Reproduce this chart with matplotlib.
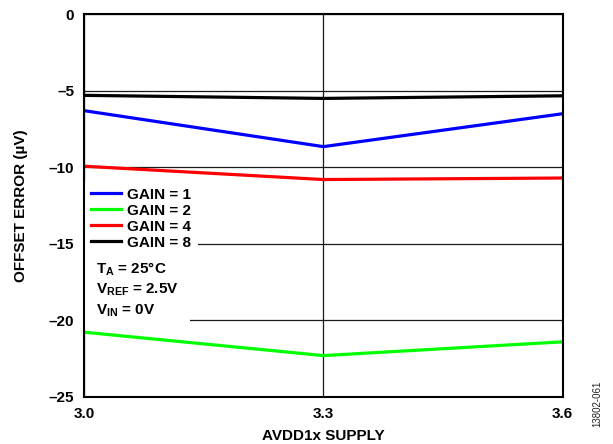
import matplotlib
matplotlib.use('Agg')
import matplotlib.pyplot as plt

plt.rcParams['font.family'] = ['Liberation Sans', 'DejaVu Sans']
plt.rcParams['font.weight'] = 'bold'
plt.rcParams['mathtext.fontset'] = 'custom'
plt.rcParams['mathtext.rm'] = 'Liberation Sans:bold'
plt.rcParams['mathtext.bf'] = 'Liberation Sans:bold'
plt.rcParams['mathtext.it'] = 'Liberation Sans:bold'

supply = [3.0, 3.3, 3.6]
gain_1 = [-6.3, -8.65, -6.5]
gain_2 = [-20.77, -22.3, -21.4]
gain_4 = [-9.93, -10.8, -10.7]
gain_8 = [-5.3, -5.5, -5.33]

series = [
    ('GAIN = 1', gain_1, '#0000ff'),
    ('GAIN = 2', gain_2, '#00ff00'),
    ('GAIN = 4', gain_4, '#ff0000'),
    ('GAIN = 8', gain_8, '#000000'),
]

fig = plt.figure(figsize=(6.13, 4.44), dpi=100)
ax = fig.add_axes([0.137, 0.106, 0.781, 0.862])

for label, vals, color in series:
    ax.plot(supply, vals, color=color, lw=2.3, label=label, zorder=3)

ax.set_xlim(3.0, 3.6)
ax.set_ylim(-25, 0)
ax.set_xticks([3.0, 3.3, 3.6])
ax.set_xticklabels(['3.0', '3.3', '3.6'])
ax.set_yticks([0, -5, -10, -15, -20, -25])
ax.set_yticklabels(['0', '–5', '–10', '–15', '–20', '–25'])
ax.tick_params(length=0, labelsize=11, pad=7)
ax.grid(True, color='#1a1a1a', lw=0.9, zorder=1)
for sp in ax.spines.values():
    sp.set_linewidth(1.5)
    sp.set_zorder(6)

ax.set_xlabel('AVDD1x SUPPLY', fontsize=11, fontweight='bold')
ax.set_ylabel('OFFSET ERROR (µV)', fontsize=11, fontweight='bold')
ax.xaxis.set_label_coords(0.5, -0.085)
ax.yaxis.set_label_coords(-0.117, 0.5)

leg = ax.legend(loc='upper left', bbox_to_anchor=(0.0, 0.565), fontsize=11,
                frameon=True, fancybox=False, edgecolor='none', facecolor='white',
                framealpha=1, handlelength=2.0, handletextpad=0.35,
                labelspacing=0.13, borderaxespad=0.0, borderpad=0.45)
leg.set_zorder(4)

ax.text(0.025, 0.357, 'T$_\\mathbf{A}$ = 25°C\nV$_\\mathbf{REF}$ = 2.5V\nV$_\\mathbf{IN}$ = 0V',
        transform=ax.transAxes, fontsize=11, fontweight='bold', va='top', ha='left',
        linespacing=1.35, zorder=4,
        bbox=dict(facecolor='white', edgecolor='none', pad=8.0))

fig.text(0.975, 0.09, '13802-061', rotation=90, fontsize=7, fontweight='normal',
         ha='center', va='center', color='#222222')

fig.savefig('out.png', dpi=100)
